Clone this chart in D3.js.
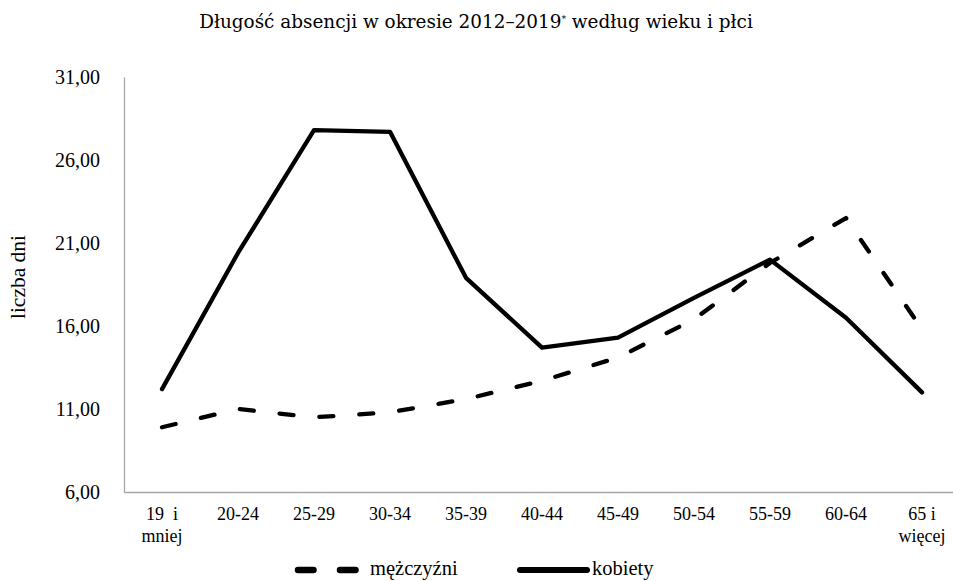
<!DOCTYPE html>
<html>
<head>
<meta charset="utf-8">
<script src="https://cdn.jsdelivr.net/npm/d3@7"></script>
<style>
  html, body { margin: 0; padding: 0; background: #fff; }
  svg { display: block; }
  text { fill: #000; white-space: pre; }
</style>
</head>
<body>
<svg id="chart" width="953" height="581"></svg>
<script>
// Age groups (each label may wrap onto a second line)
const categories = ["19 i mniej", "20-24", "25-29", "30-34", "35-39", "40-44", "45-49", "50-54", "55-59", "60-64", "65 i więcej"];
const categoryLines = [["19  i", "mniej"], ["20-24"], ["25-29"], ["30-34"], ["35-39"], ["40-44"], ["45-49"], ["50-54"], ["55-59"], ["60-64"], ["65 i", "więcej"]];

// Average absence length (days)
const mezczyzni = [9.9, 11.0, 10.5, 10.8, 11.6, 12.7, 14.1, 16.4, 19.8, 22.5, 15.8];
const kobiety   = [12.2, 20.4, 27.8, 27.7, 18.9, 14.7, 15.3, 17.7, 20.0, 16.5, 12.0];

const yTicks = [6, 11, 16, 21, 26, 31];
const seriesNames = ["mężczyźni", "kobiety"];

const svg = d3.select("#chart");
const serif = "'Liberation Serif', 'Times New Roman', serif";

const x = d3.scaleBand().domain(categories).range([124, 960]);
const y = d3.scaleLinear().domain([6, 31]).range([492, 77]);
const cx = c => x(c) + x.bandwidth() / 2;

// Title, sized to span its intended width
const title = svg.append("text")
  .attr("x", 476).attr("y", 28)
  .attr("text-anchor", "middle")
  .style("font-family", "'DejaVu Serif', serif")
  .style("font-size", "18px");
title.append("tspan").text("Długość absencji w okresie 2012–2019");
title.append("tspan").attr("dy", -6).style("font-size", "9px").text("*");
title.append("tspan").attr("dy", 6).text(" według wieku i płci");
const tw = title.node().getComputedTextLength();
if (tw > 0) title.style("font-size", (18 * 554 / tw).toFixed(2) + "px");

// Y axis
const yAxis = d3.axisLeft(y).tickValues(yTicks).tickSize(0).tickPadding(24)
  .tickFormat(d => d3.format(".2f")(d).replace(".", ","));
const gy = svg.append("g").attr("transform", "translate(124,0)").call(yAxis);
gy.select(".domain").attr("stroke", "#a6a6a6").attr("stroke-width", 1.3);
gy.selectAll("text").style("font-family", serif).style("font-size", "20px").attr("fill", "#000");

// X axis
const xAxis = d3.axisBottom(x).tickSize(0).tickFormat(() => "");
const gx = svg.append("g").attr("transform", "translate(0,492)").call(xAxis);
gx.select(".domain").attr("stroke", "#a6a6a6").attr("stroke-width", 1.3);
gx.selectAll(".tick text").remove();
gx.selectAll(".tick").each(function (d, i) {
  const t = d3.select(this).append("text")
    .attr("text-anchor", "middle")
    .style("font-family", serif)
    .style("font-size", "18px")
    .attr("fill", "#000");
  categoryLines[i].forEach((line, j) => {
    t.append("tspan").attr("x", 0).attr("y", 28 + j * 22).text(line);
  });
});

// Y axis title
svg.append("text")
  .attr("transform", "translate(25,277) rotate(-90)")
  .attr("text-anchor", "middle")
  .style("font-family", serif)
  .style("font-size", "21.5px")
  .text("liczba dni");

// Lines
const line = d3.line().x((d, i) => cx(categories[i])).y(d => y(d));

svg.append("path")
  .datum(mezczyzni)
  .attr("d", line)
  .attr("fill", "none")
  .attr("stroke", "#000")
  .attr("stroke-width", 4.3)
  .attr("stroke-linecap", "round")
  .attr("stroke-linejoin", "round")
  .attr("stroke-dasharray", "14,26");

svg.append("path")
  .datum(kobiety)
  .attr("d", line)
  .attr("fill", "none")
  .attr("stroke", "#000")
  .attr("stroke-width", 4.3)
  .attr("stroke-linecap", "round")
  .attr("stroke-linejoin", "round");

// Legend
const legend = svg.append("g");
legend.append("line")
  .attr("x1", 298).attr("x2", 356).attr("y1", 570).attr("y2", 570)
  .attr("stroke", "#000").attr("stroke-width", 6.5)
  .attr("stroke-linecap", "round")
  .attr("stroke-dasharray", "15.5,26.5");
legend.append("text")
  .attr("x", 370).attr("y", 575)
  .style("font-family", serif).style("font-size", "20.5px")
  .text(seriesNames[0]);
legend.append("line")
  .attr("x1", 520).attr("x2", 587).attr("y1", 570).attr("y2", 570)
  .attr("stroke", "#000").attr("stroke-width", 6)
  .attr("stroke-linecap", "round");
legend.append("text")
  .attr("x", 592).attr("y", 575)
  .style("font-family", serif).style("font-size", "20.5px")
  .text(seriesNames[1]);
</script>
</body>
</html>
